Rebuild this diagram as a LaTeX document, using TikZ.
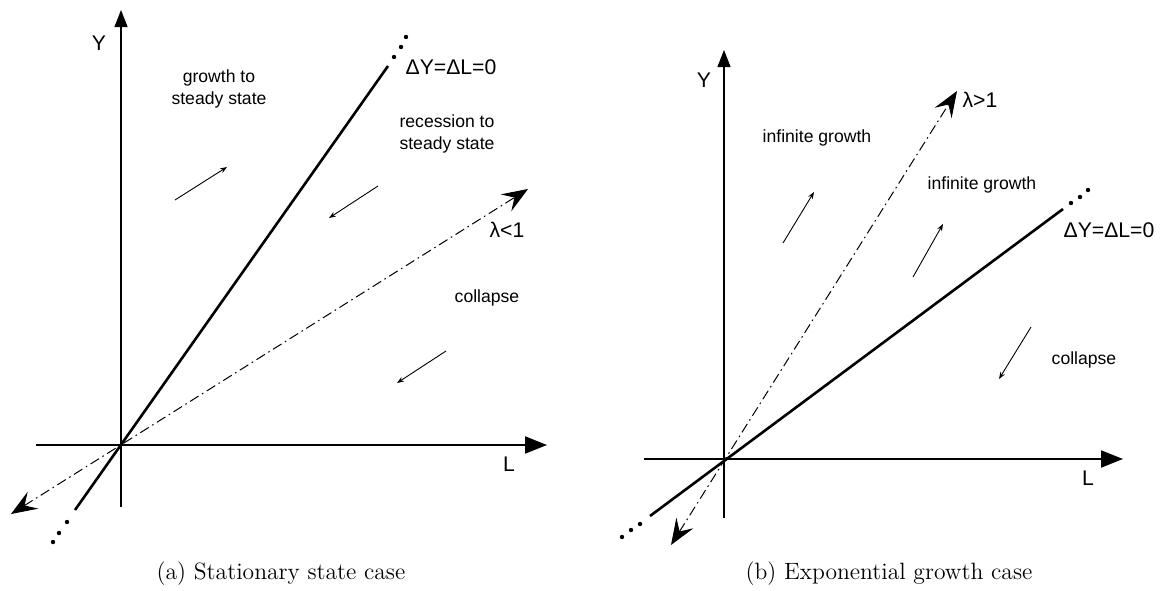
\documentclass[tikz,border=0pt]{standalone}
\usepackage{fontspec}
\newfontfamily\labfont{Liberation Sans}
\usetikzlibrary{arrows.meta}

\begin{document}
\begin{tikzpicture}[x=0.5pt, y=-0.5pt]
    % --- Estilos ---
    \tikzset{
        yaxis/.style={line width=0.6pt, -{Triangle[length=8.5pt, width=6.5pt]}},
        laxis/.style={line width=1pt, -{Triangle[length=11pt, width=8.5pt]}},
        locus/.style={line width=1.3pt},
        lamline/.style={line width=0.5pt, dash pattern=on 5pt off 2pt on 0.8pt off 2pt,
            {Stealth[length=13pt, width=10pt, inset=5pt]}-{Stealth[length=13pt, width=10pt, inset=5pt]}},
        flow/.style={line width=0.45pt, -{Stealth[length=3.5pt, width=2.6pt]}},
        bigtxt/.style={font=\labfont\fontsize{10.6}{13}\selectfont, inner sep=0pt},
        smalltxt/.style={font=\labfont\fontsize{8.8}{11}\selectfont, align=center, inner sep=0pt},
        captxt/.style={font=\fontsize{11.8}{14}\selectfont\addfontfeatures{LetterSpace=3}, inner sep=0pt}
    }
    \useasboundingbox (0,0) rectangle (1162,590);

    % --- (a) Caso estacionario ---
    \coordinate (O1) at (121,445);
    \coordinate (Y1top) at (121,10);
    \coordinate (Y1bot) at (121,507);
    \coordinate (L1lft) at (36,445);
    \coordinate (L1tip) at (547,445);
    \coordinate (S1a) at (75,510);
    \coordinate (S1b) at (388,66);
    \coordinate (D1a) at (11,514);
    \coordinate (D1b) at (528,189);

    \draw[line width=0.6pt] (Y1bot) -- (O1);
    \draw[yaxis] (O1) -- (Y1top);
    \draw[laxis] (L1lft) -- (L1tip);
    \draw[locus] (S1a) -- (S1b);
    \draw[lamline] (D1a) -- (D1b);
    \foreach \p in {(394,57), (401,47), (406,37), (67,522), (59,533), (53,542)}
        \fill \p circle (1.1pt);

    % flechas de trayectoria
    \draw[flow] (175,200) coordinate (g1) -- (227,167) coordinate (g2);
    \draw[flow] (378,186) coordinate (r1) -- (329,218) coordinate (r2);
    \draw[flow] (446,351) coordinate (c1) -- (397,383) coordinate (c2);

    \node[bigtxt] (ylab1) at (99,43) {Y};
    \node[bigtxt] (llab1) at (509,464) {L};
    \node[bigtxt] (ss1) at (451,67) {ΔY=ΔL=0};
    \node[bigtxt] (lam1) at (507,230) {λ<1};
    \node[smalltxt] (grow1) at (219,89) {growth to\\steady state};
    \node[smalltxt] (rec1) at (447,134) {recession to\\steady state};
    \node[smalltxt] (col1) at (487,298) {collapse};
    \node[captxt] (cap1) at (281,574) {(a) Stationary state case};

    % --- (b) Caso de crecimiento exponencial ---
    \coordinate (O2) at (724,459);
    \coordinate (Y2top) at (724,50);
    \coordinate (Y2bot) at (724,518);
    \coordinate (L2lft) at (644,459);
    \coordinate (L2tip) at (1123,459);
    \coordinate (S2a) at (650,516);
    \coordinate (S2b) at (1063,209);
    \coordinate (D2a) at (671,545);
    \coordinate (D2b) at (957,91);

    \draw[line width=0.6pt] (Y2bot) -- (O2);
    \draw[yaxis] (O2) -- (Y2top);
    \draw[laxis] (L2lft) -- (L2tip);
    \draw[locus] (S2a) -- (S2b);
    \draw[lamline] (D2a) -- (D2b);
    \foreach \p in {(1071,203), (1080,197), (1088,190), (640,524), (631,530), (622,537)}
        \fill \p circle (1.1pt);

    \draw[flow] (783,243) coordinate (i1) -- (814,192) coordinate (i2);
    \draw[flow] (913,277) coordinate (j1) -- (943,224) coordinate (j2);
    \draw[flow] (1031,327) coordinate (k1) -- (999,379) coordinate (k2);

    \node[bigtxt] (ylab2) at (704,80) {Y};
    \node[bigtxt] (llab2) at (1088,478) {L};
    \node[bigtxt] (ss2) at (1109,230) {ΔY=ΔL=0};
    \node[bigtxt] (lam2) at (980,100) {λ>1};
    \node[smalltxt] (inf1) at (817,138) {infinite growth};
    \node[smalltxt] (inf2) at (982,185) {infinite growth};
    \node[smalltxt] (col2) at (1084,360) {collapse};
    \node[captxt] (cap2) at (889,574) {(b) Exponential growth case};
\end{tikzpicture}
\end{document}
